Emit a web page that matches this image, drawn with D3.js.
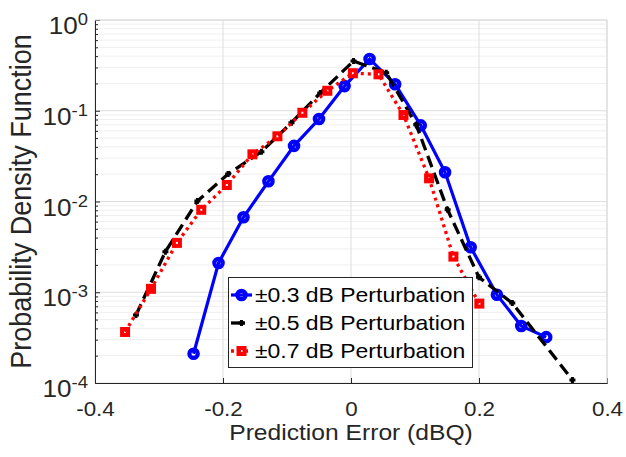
<!DOCTYPE html>
<html>
<head>
<meta charset="utf-8">
<script src="https://cdn.jsdelivr.net/npm/d3@7"></script>
<style>
  body { margin: 0; background: #fff; }
  text { font-family: "Liberation Sans", Arial, sans-serif; }
</style>
</head>
<body>
<div id="chart"></div>
<script>
const WIDTH = 626;
const HEIGHT = 457;
const SX = 1.12; // horizontal stretch of the original figure

const blueX = [-0.246, -0.207, -0.168, -0.129, -0.089, -0.050, -0.010, 0.029, 0.069, 0.109, 0.147, 0.187, 0.228, 0.266, 0.305];
const blueY = [2.1e-4, 2.1e-3, 6.7e-3, 0.0167, 0.041, 0.081, 0.187, 0.372, 0.196, 0.069, 0.021, 3.13e-3, 9.4e-4, 4.25e-4, 3.2e-4];
const blackX = [-0.336, -0.290, -0.240, -0.192, -0.140, -0.093, -0.048, 0.004, 0.055, 0.102, 0.151, 0.200, 0.252, 0.346];
const blackY = [5.6e-4, 2.8e-3, 0.0101, 0.0201, 0.0354, 0.0738, 0.157, 0.353, 0.262, 0.070, 8.1e-3, 1.46e-3, 7.6e-4, 1.08e-4];
const redX = [-0.353, -0.3125, -0.272, -0.234, -0.194, -0.154, -0.115, -0.076, -0.037, 0.003, 0.043, 0.082, 0.122, 0.160, 0.2005];
const redY = [3.65e-4, 1.09e-3, 3.5e-3, 8.1e-3, 0.0152, 0.0331, 0.0523, 0.095, 0.166, 0.259, 0.252, 0.0898, 0.018, 2.47e-3, 7.5e-4];

const seriesNames = ["\u00B10.3 dB Perturbation", "\u00B10.5 dB Perturbation", "\u00B10.7 dB Perturbation"];
const xTicks = [-0.4, -0.2, 0, 0.2, 0.4];
const yExponents = [0, -1, -2, -3, -4];

const marginLeft = 95, marginRight = 19, marginTop = 20, marginBottom = 74;

const x = d3.scaleLinear().domain([-0.4, 0.4]).range([marginLeft, WIDTH - marginRight]);
const y = d3.scaleLog().domain([1e-4, 1]).range([HEIGHT - marginBottom, marginTop]);

const svg = d3.select("#chart").append("svg")
    .attr("width", WIDTH)
    .attr("height", HEIGHT);

// minor grid (log decades)
let minor = [];
for (let e = -4; e < 0; ++e) {
  for (let m = 2; m <= 9; ++m) minor.push(m * Math.pow(10, e));
}
svg.append("g").selectAll("line").data(minor).join("line")
    .attr("x1", x(-0.4)).attr("x2", x(0.4))
    .attr("y1", d => y(d)).attr("y2", d => y(d))
    .attr("stroke", "#efefef").attr("stroke-width", 1);

// major grid
svg.append("g").selectAll("line").data(yExponents.map(e => Math.pow(10, e))).join("line")
    .attr("x1", x(-0.4)).attr("x2", x(0.4))
    .attr("y1", d => y(d)).attr("y2", d => y(d))
    .attr("stroke", "#dedede").attr("stroke-width", 1);
svg.append("g").selectAll("line").data(xTicks).join("line")
    .attr("x1", d => x(d)).attr("x2", d => x(d))
    .attr("y1", y(1)).attr("y2", y(1e-4))
    .attr("stroke", "#dedede").attr("stroke-width", 1);

// x axis
const xAxis = svg.append("g")
    .attr("transform", `translate(0,${y(1e-4)})`)
    .call(d3.axisBottom(x).tickValues(xTicks).tickSize(-5).tickPadding(18.5));
xAxis.select(".domain").attr("stroke", "#262626");
xAxis.selectAll(".tick line").attr("stroke", "#262626");
xAxis.selectAll(".tick text")
    .attr("fill", "#262626")
    .attr("font-size", 20)
    .attr("transform", `scale(${SX},1)`)
    .text(d => d === 0 ? "0" : d3.format(".1f")(d).replace("\u2212", "-"));

// y axis, major and minor ticks
const yAxis = svg.append("g")
    .attr("transform", `translate(${x(-0.4)},0)`)
    .call(d3.axisLeft(y).tickValues(yExponents.map(e => Math.pow(10, e))).tickSize(-5).tickFormat(""));
svg.append("g")
    .attr("transform", `translate(${x(-0.4)},0)`)
    .call(d3.axisLeft(y).tickValues(minor).tickSize(-3).tickFormat(""))
    .call(g => g.select(".domain").remove())
    .selectAll(".tick line").attr("stroke", "#262626");
yAxis.select(".domain").attr("stroke", "#262626");
yAxis.selectAll(".tick line").attr("stroke", "#262626");

// y tick labels 10^e
const yl = svg.append("g").selectAll("text").data(yExponents).join("text")
    .attr("transform", d => `translate(88,${y(Math.pow(10, d)) + 14}) scale(${SX},1)`)
    .attr("text-anchor", "end")
    .attr("fill", "#262626");
yl.append("tspan").attr("font-size", 23.3).text("10");
yl.append("tspan").attr("font-size", 16.5).attr("dy", -9).text(d => d === 0 ? "0" : "-" + (-d));

// top and right edges
svg.append("line").attr("x1", x(-0.4)).attr("x2", x(0.4)).attr("y1", y(1)).attr("y2", y(1))
    .attr("stroke", "#d9d9d9");
svg.append("line").attr("x1", x(0.4)).attr("x2", x(0.4)).attr("y1", y(1)).attr("y2", y(1e-4))
    .attr("stroke", "#d9d9d9");

// axis labels
svg.append("text")
    .attr("transform", `translate(${(x(-0.4) + x(0.4)) / 2},440) scale(${SX},1)`)
    .attr("text-anchor", "middle")
    .attr("font-size", 22)
    .attr("fill", "#262626")
    .text("Prediction Error (dBQ)");
svg.append("text")
    .attr("transform", `translate(31,${(y(1) + y(1e-4)) / 2}) scale(${SX},1) rotate(-90)`)
    .attr("text-anchor", "middle")
    .attr("font-size", 27)
    .attr("fill", "#262626")
    .text("Probability Density Function");

// data
const line = d3.line().x(d => x(d[0])).y(d => y(d[1]));
const blue = blueX.map((v, i) => [v, blueY[i]]);
const black = blackX.map((v, i) => [v, blackY[i]]);
const red = redX.map((v, i) => [v, redY[i]]);

const plot = svg.append("g");

function circleMarker(g, px, py) {
  g.append("circle").attr("cx", px).attr("cy", py).attr("r", 4.2)
      .attr("fill", "none").attr("stroke", "#0000ff").attr("stroke-width", 4.2);
}
function plusMarker(g, px, py) {
  g.append("path").attr("d", `M${px - 3},${py}H${px + 3}M${px},${py - 3}V${py + 3}`)
      .attr("stroke", "#000").attr("stroke-width", 3);
}
function squareMarker(g, px, py) {
  g.append("rect").attr("x", px - 3).attr("y", py - 3).attr("width", 6).attr("height", 6)
      .attr("fill", "none").attr("stroke", "#ff0000").attr("stroke-width", 4);
}

plot.append("path").attr("d", line(blue))
    .attr("fill", "none").attr("stroke", "#0000ff").attr("stroke-width", 3.2);
blue.forEach(d => circleMarker(plot, x(d[0]), y(d[1])));

plot.append("path").attr("d", line(black))
    .attr("fill", "none").attr("stroke", "#000").attr("stroke-width", 3.3)
    .attr("stroke-dasharray", "12,6");
black.forEach(d => plusMarker(plot, x(d[0]), y(d[1])));

plot.append("path").attr("d", line(red))
    .attr("fill", "none").attr("stroke", "#ff0000").attr("stroke-width", 3.3)
    .attr("stroke-dasharray", "3,4");
red.forEach(d => squareMarker(plot, x(d[0]), y(d[1])));

// legend
const legend = svg.append("g");
legend.append("rect").attr("x", 228.5).attr("y", 277.5).attr("width", 244).attr("height", 90)
    .attr("fill", "#fff").attr("stroke", "#262626").attr("stroke-width", 1);
const rowY = [295, 323, 351];
legend.append("line").attr("x1", 231).attr("x2", 252).attr("y1", rowY[0]).attr("y2", rowY[0])
    .attr("stroke", "#0000ff").attr("stroke-width", 3.2);
circleMarker(legend, 241.5, rowY[0]);
legend.append("line").attr("x1", 231).attr("x2", 245).attr("y1", rowY[1]).attr("y2", rowY[1])
    .attr("stroke", "#000").attr("stroke-width", 3.3);
plusMarker(legend, 241.5, rowY[1]);
legend.append("line").attr("x1", 231).attr("x2", 252).attr("y1", rowY[2]).attr("y2", rowY[2])
    .attr("stroke", "#ff0000").attr("stroke-width", 3.3).attr("stroke-dasharray", "3,4");
squareMarker(legend, 241.5, rowY[2]);
legend.selectAll("text.lab").data(seriesNames).join("text")
    .attr("class", "lab")
    .attr("transform", (d, i) => `translate(255,${rowY[i] + 7}) scale(${SX},1)`)
    .attr("font-size", 20.5)
    .attr("fill", "#000")
    .text(d => d);
</script>
</body>
</html>
